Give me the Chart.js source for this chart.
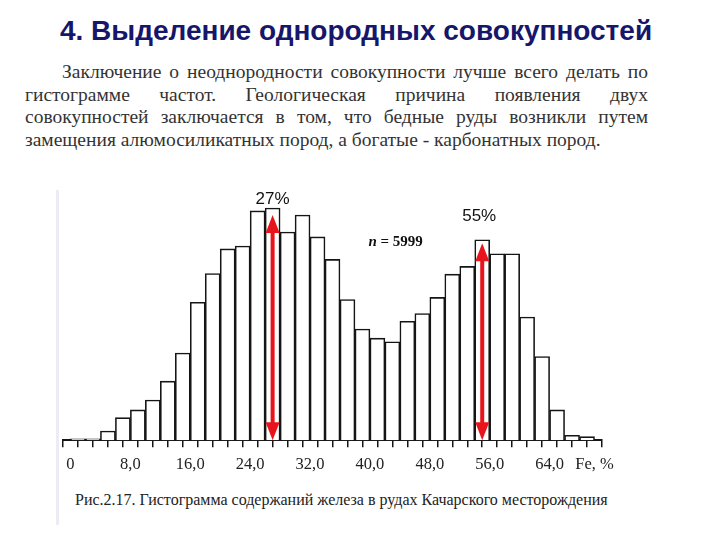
<!DOCTYPE html>
<html lang="ru">
<head>
    <meta charset="UTF-8">
    <title>Выделение однородных совокупностей</title>
    <style>
        * { margin: 0; padding: 0; box-sizing: border-box; }
        body {
            width: 720px;
            height: 540px;
            background: #fff;
            position: relative;
            overflow: hidden;
        }
        h1 {
            position: absolute;
            left: 0; top: 15px; width: 712px;
            text-align: center;
            font-family: Arial, "Liberation Sans", sans-serif;
            font-size: 28px;
            font-weight: bold;
            color: #16166a;
        }
        .para {
            position: absolute;
            left: 25px; top: 61px; width: 623px;
            font-family: "Liberation Serif", "DejaVu Serif", serif;
            font-size: 19.5px;
            line-height: 22.7px;
            color: #333;
        }
        .para div { text-align: justify; text-align-last: justify; }
        .para div.first { text-indent: 37px; }
        .para div.last { text-align-last: left; }
        .edge {
            position: absolute;
            left: 56px; top: 190px; width: 3px; height: 335px;
            background: #ececf4;
        }
        .chart-box {
            position: absolute;
            left: 0; top: 190px; width: 720px; height: 296px;
        }
        .caption {
            position: absolute;
            left: 75px; top: 491px;
            font-family: "Liberation Serif", "DejaVu Serif", serif;
            font-size: 16px;
            color: #222;
        }
    </style>
</head>
<body>
    <h1>4. Выделение однородных совокупностей</h1>

    <div class="para">
        <div class="first">Заключение о неоднородности совокупности лучше всего делать по</div>
        <div>гистограмме частот. Геологическая причина появления двух</div>
        <div>совокупностей заключается в том, что бедные руды возникли путем</div>
        <div class="last">замещения алюмосиликатных пород, а богатые - карбонатных пород.</div>
    </div>

    <div class="edge"></div>
    <div class="chart-box"><canvas id="histChart"></canvas></div>
    <div class="caption">Рис.2.17. Гистограмма содержаний железа в рудах Качарского месторождения</div>

    <script src="https://cdn.jsdelivr.net/npm/chart.js@4.4.0/dist/chart.umd.min.js"></script>
    <script>
        // Fe content bins (middle of each 2% interval)
        const binMid = [1, 3, 5, 7, 9, 11, 13, 15, 17, 19, 21, 23, 25, 27, 29, 31, 33, 35,
                        37, 39, 41, 43, 45, 47, 49, 51, 53, 55, 57, 59, 61, 63, 65, 67, 69];
        // number of samples in each bin (n = 5999)
        const counts = [2, 2, 13, 32, 43, 57, 84, 124, 196, 237, 272, 276, 326, 330, 296, 320, 289, 257,
                        200, 158, 145, 140, 169, 180, 203, 236, 247, 285, 265, 265, 175, 119, 43, 7, 5];

        // tick labels on the Fe axis
        const tickValues = [0, 8, 16, 24, 32, 40, 48, 56, 64, 70];
        const tickLabels = ['0', '8,0', '16,0', '24,0', '32,0', '40,0', '48,0', '56,0', '64,0', 'Fe, %'];

        // red arrows marking the two modes
        const arrowX = [27, 55];
        const arrowTop = [320, 280];
        const arrowText = ['27%', '55%'];
        const arrowTextPos = [[27, 342], [54.6, 318]];

        const nText = 'n = 5999';
        const nPos = [39.8, 282];

        const annotations = {
            id: 'annotations',
            afterDatasetsDraw(chart) {
                const ctx = chart.ctx;
                const xs = chart.scales.x, ys = chart.scales.y;
                ctx.save();
                ctx.fillStyle = '#e8141b';
                ctx.strokeStyle = '#e8141b';
                arrowX.forEach((v, i) => {
                    const x = xs.getPixelForValue(v);
                    const y1 = ys.getPixelForValue(arrowTop[i]);
                    const y2 = ys.getPixelForValue(0);
                    const head = 18, hw = 7;
                    ctx.lineWidth = 4;
                    ctx.beginPath();
                    ctx.moveTo(x, y1 + head - 2);
                    ctx.lineTo(x, y2 - head + 2);
                    ctx.stroke();
                    ctx.beginPath();
                    ctx.moveTo(x, y1);
                    ctx.lineTo(x - hw, y1 + head);
                    ctx.lineTo(x + hw, y1 + head);
                    ctx.closePath();
                    ctx.fill();
                    ctx.beginPath();
                    ctx.moveTo(x, y2);
                    ctx.lineTo(x - hw, y2 - head);
                    ctx.lineTo(x + hw, y2 - head);
                    ctx.closePath();
                    ctx.fill();
                });

                ctx.fillStyle = '#111';
                ctx.font = '17px Arial, "Liberation Sans", sans-serif';
                ctx.textAlign = 'center';
                ctx.textBaseline = 'middle';
                arrowText.forEach((t, i) => {
                    ctx.fillText(t, xs.getPixelForValue(arrowTextPos[i][0]), ys.getPixelForValue(arrowTextPos[i][1]));
                });

                // n = 5999 with italic n
                ctx.textAlign = 'left';
                let nx = xs.getPixelForValue(nPos[0]);
                const ny = ys.getPixelForValue(nPos[1]);
                ctx.font = 'italic bold 15px "Liberation Serif", serif';
                ctx.fillText('n', nx, ny);
                nx += ctx.measureText('n ').width;
                ctx.font = 'bold 15px "Liberation Serif", serif';
                ctx.fillText(nText.slice(2), nx, ny);
                ctx.restore();
            }
        };

        new Chart(document.getElementById('histChart'), {
            type: 'bar',
            data: {
                datasets: [{
                    data: binMid.map((m, i) => ({ x: m, y: counts[i] })),
                    backgroundColor: '#ffffff',
                    borderColor: '#151515',
                    borderWidth: 1.6,
                    barPercentage: 1,
                    categoryPercentage: 1
                }]
            },
            options: {
                responsive: true,
                maintainAspectRatio: false,
                animation: false,
                layout: { padding: { left: 63, right: 118, top: 4, bottom: 3 } },
                plugins: { legend: { display: false }, tooltip: { enabled: false } },
                scales: {
                    x: {
                        type: 'linear',
                        min: 0,
                        max: 70,
                        border: { display: true, color: '#151515', width: 2 },
                        grid: { drawOnChartArea: false, drawTicks: true, tickLength: 7, color: '#151515', lineWidth: 1.5 },
                        ticks: {
                            stepSize: 2,
                            autoSkip: false,
                            maxRotation: 0,
                            padding: 8,
                            color: '#222',
                            font: { family: '"Liberation Serif", serif', size: 16.5 },
                            callback: (v) => {
                                const k = tickValues.indexOf(v);
                                return k >= 0 ? tickLabels[k] : '';
                            }
                        }
                    },
                    y: { display: false, min: 0, max: 350 }
                }
            },
            plugins: [annotations]
        });
    </script>
</body>
</html>
